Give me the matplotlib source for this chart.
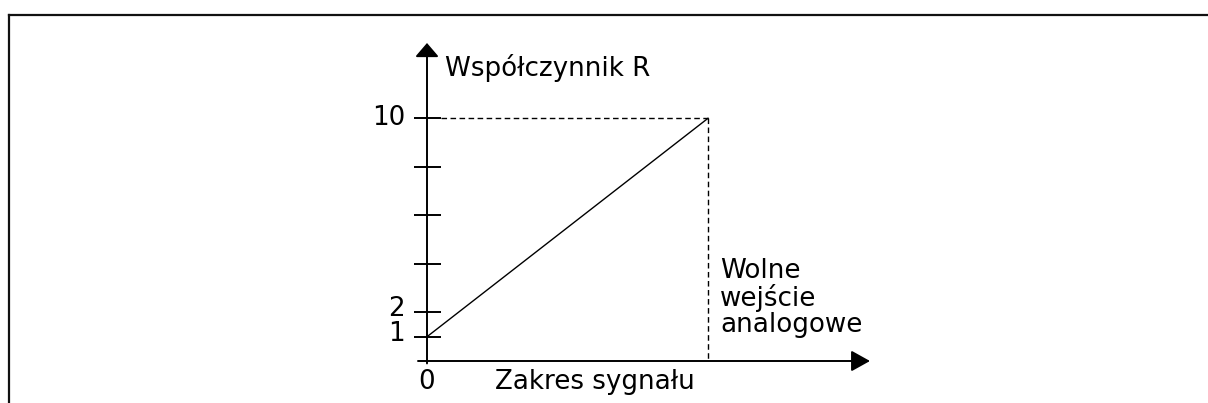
import matplotlib
matplotlib.use("Agg")
import matplotlib.pyplot as plt
from matplotlib.lines import Line2D

# Linear mapping: analog input signal range -> R factor
signal = [0, 1]
r_factor = [1, 10]

r_ticks = [1, 2, 4, 6, 8, 10]
r_tick_labels = {1: "1", 2: "2", 10: "10"}

y_title = "Współczynnik R"
x_title = "Zakres sygnału"
input_label = ["Wolne", "wejście", "analogowe"]

W, H, DPI = 1208, 403, 100
fig = plt.figure(figsize=(W / DPI, H / DPI), dpi=DPI)
fig.patch.set_facecolor("white")
ax = fig.add_axes([0, 0, 1, 1])
ax.axis("off")

# pixel scale of the schematic
x0_px, x1_px = 427, 708          # signal 0 and 1 (from left)
y0_px, y10_px = 361, 118.3       # R 0 and 10 (from top)
sx = (x1_px - x0_px) / (signal[1] - signal[0])
sy = (y0_px - y10_px) / 10.0
ax.set_xlim(-x0_px / sx, (W - x0_px) / sx)
ax.set_ylim(-(H - y0_px) / sy, y0_px / sy)

FS = 18.8
black = "#000000"

# axes with arrow heads
y_top = (y0_px - 43) / sy
x_left = (418 - x0_px) / sx
x_right = (870 - x0_px) / sx
ax.annotate("", xy=(0, y_top), xytext=(0, -0.1),
            arrowprops=dict(arrowstyle="-|>,head_length=8.4,head_width=7.2",
                            mutation_scale=1, lw=1.4, color=black,
                            shrinkA=0, shrinkB=0))
ax.annotate("", xy=(x_right, 0), xytext=(x_left, 0),
            arrowprops=dict(arrowstyle="-|>,head_length=11.5,head_width=6.4",
                            mutation_scale=1, lw=1.4, color=black,
                            shrinkA=0, shrinkB=0))

# ticks on R axis
half_tick = 13.5 / sx
for r in r_ticks:
    ax.plot([-half_tick, half_tick], [r, r], color=black, lw=1.4,
            solid_capstyle="butt")

for r, lab in r_tick_labels.items():
    dy = 0 if r == 10 else 3
    ax.annotate(lab, xy=(0, r), xytext=(-22, dy), textcoords="offset pixels",
                ha="right", va="center", fontsize=FS, color=black)

ax.annotate("0", xy=(0, 0), xytext=(0, -21), textcoords="offset pixels",
            ha="center", va="center", fontsize=FS, color=black)

# guide lines to the end point
ax.plot([half_tick, signal[1]], [r_factor[1], r_factor[1]], color=black,
        lw=1.0, dashes=(4, 2.5))
ax.plot([signal[1], signal[1]], [r_factor[1], 0], color=black,
        lw=1.0, dashes=(4, 2.5))

# characteristic
ax.plot(signal, r_factor, color=black, lw=1.0)

# titles
ax.annotate(y_title, xy=(0, y_top), xytext=(18, -33), textcoords="offset pixels",
            ha="left", va="baseline", fontsize=FS, color=black)
ax.annotate(x_title, xy=(0, 0), xytext=(68, -21), textcoords="offset pixels",
            ha="left", va="center", fontsize=FS, color=black)
ax.annotate("\n".join(input_label), xy=(signal[1], 0), xytext=(12, 29),
            textcoords="offset pixels", ha="left", va="baseline",
            multialignment="left", linespacing=1.0,
            fontsize=FS, color=black)

# frame around the drawing (open at right and bottom)
lx = 8.5 / W
ty = 1 - 14.5 / H
fig.add_artist(Line2D([lx, lx], [0, ty], transform=fig.transFigure,
                      color="#111111", lw=1.6, solid_capstyle="projecting"))
fig.add_artist(Line2D([lx, 1], [ty, ty], transform=fig.transFigure,
                      color="#111111", lw=1.6, solid_capstyle="projecting"))

fig.savefig("out.png", dpi=DPI, facecolor="white")
